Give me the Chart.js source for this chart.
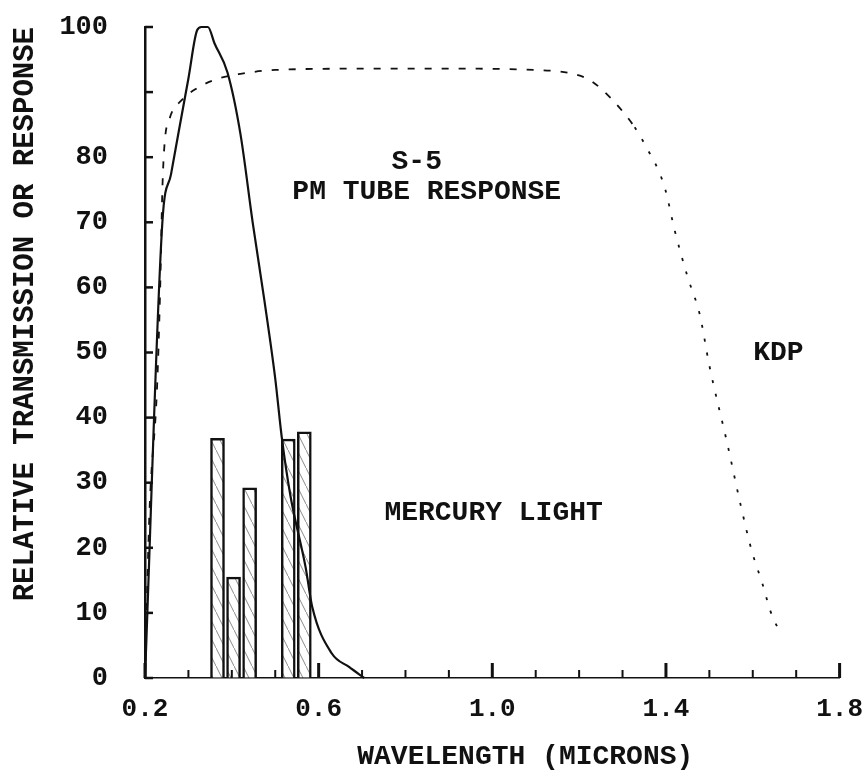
<!DOCTYPE html>
<html>
<head>
<meta charset="utf-8">
<script src="https://cdn.jsdelivr.net/npm/chart.js@4.4.1/dist/chart.umd.min.js"></script>
<style>
  html, body { margin: 0; padding: 0; background: #ffffff; }
  #wrap { width: 864px; height: 778px; }
</style>
</head>
<body>
<div id="wrap"><canvas id="c" width="864" height="778"></canvas></div>
<script>
// ---- data (wavelength in microns, relative value in %) ----
const s5Wavelength = [0.20, 0.24, 0.26, 0.28, 0.30, 0.32, 0.33, 0.345, 0.36, 0.39, 0.42, 0.448, 0.475, 0.50, 0.515, 0.535, 0.57, 0.585, 0.63, 0.67, 0.705];
const s5Response   = [0,    70,   77.4, 84.8, 92.1, 99.5, 100,  100,   97.5, 93,   83.5, 70,    58,    46,   37,    28,    17,   11,    3.8,  1.7,  0];

const kdpWavelength = [0.20, 0.21, 0.228, 0.235, 0.24, 0.245, 0.257, 0.285, 0.32, 0.365, 0.42, 0.50, 0.70, 0.90, 1.10, 1.186, 1.228, 1.274, 1.328, 1.351, 1.397, 1.42, 1.45, 1.478, 1.50, 1.542, 1.572, 1.597, 1.624, 1.64, 1.663];
const kdpTransmission = [0,  25,   45,    60,    75,   82,    86,    88.8,  90.6, 92,    92.8, 93.4, 93.6, 93.6, 93.4, 92.8,  91.7,  89,    84.6,  82,    75.4,  68.8, 61.6, 55.8,  48,   35.8,  26.6,  19.7,  14.1,  10.4, 6.9];

const mercuryWavelength = [0.367, 0.404, 0.441, 0.530, 0.567];
const mercuryIntensity  = [36.8,  15.5,  29.2,  36.7,  37.8];

const xTickLabels = ['0.2', '0.6', '1.0', '1.4', '1.8'];
const yTickLabels = ['0', '10', '20', '30', '40', '50', '60', '70', '80', '', '100'];

const annotations = [
  { text: 'S-5', x: 0.826, y: 79.3 },
  { text: 'PM TUBE RESPONSE', x: 0.849, y: 74.7 },
  { text: 'MERCURY LIGHT', x: 1.003, y: 25.3 },
  { text: 'KDP', x: 1.659, y: 49.9 }
];

// ---- helpers ----
const FONT = '"Liberation Mono", "DejaVu Sans Mono", monospace';
const INK = '#111111';

function hatchPattern() {
  const pc = document.createElement('canvas');
  pc.width = 9; pc.height = 18;
  const p = pc.getContext('2d');
  p.fillStyle = '#ffffff';
  p.fillRect(0, 0, 9, 18);
  p.strokeStyle = '#8a8a8a';
  p.lineWidth = 1;
  p.beginPath();
  p.moveTo(0, 0); p.lineTo(9, 18);
  p.stroke();
  return document.getElementById('c').getContext('2d').createPattern(pc, 'repeat');
}

const zip = (xs, ys) => xs.map((x, i) => ({ x: x, y: ys[i] }));

const decorPlugin = {
  id: 'decor',
  afterDatasetsDraw(chart) {
    const ctx = chart.ctx;
    const xs = chart.scales.x, ys = chart.scales.y;
    const x0 = xs.getPixelForValue(xs.min);
    const y0 = ys.getPixelForValue(0);
    ctx.save();
    ctx.strokeStyle = INK;
    ctx.lineCap = 'butt';
    // y ticks pointing inward
    ctx.lineWidth = 2.5;
    ys.ticks.forEach(t => {
      const py = ys.getPixelForValue(t.value);
      ctx.beginPath();
      ctx.moveTo(x0, py);
      ctx.lineTo(x0 + 8, py);
      ctx.stroke();
    });
    // x ticks pointing upward: major every 0.4, minor every 0.1
    for (let k = 2; k <= 18; k++) {
      const v = k / 10;
      const px = xs.getPixelForValue(v);
      const major = (k - 2) % 4 === 0;
      ctx.lineWidth = major ? 3 : 2;
      ctx.beginPath();
      ctx.moveTo(px, y0);
      ctx.lineTo(px, y0 - (major ? 15 : 8));
      ctx.stroke();
    }
    // text annotations
    ctx.fillStyle = INK;
    ctx.font = 'bold 28px ' + FONT;
    ctx.textAlign = 'center';
    ctx.textBaseline = 'middle';
    annotations.forEach(a => {
      ctx.fillText(a.text, xs.getPixelForValue(a.x), ys.getPixelForValue(a.y));
    });
    // x-axis title
    ctx.fillText('WAVELENGTH (MICRONS)', xs.getPixelForValue(1.076), y0 + 79);
    ctx.restore();
  }
};

new Chart(document.getElementById('c'), {
  type: 'bar',
  data: {
    datasets: [
      {
        type: 'line',
        label: 'S-5 PM TUBE RESPONSE',
        data: zip(s5Wavelength, s5Response),
        borderColor: INK,
        borderWidth: 2.2,
        pointRadius: 0,
        cubicInterpolationMode: 'monotone',
        fill: false,
        clip: 6,
        order: 1
      },
      {
        type: 'line',
        label: 'KDP',
        data: zip(kdpWavelength, kdpTransmission),
        borderColor: INK,
        borderWidth: 1.8,
        borderDash: [7, 10],
        segment: {
          borderDash: c => (c.p0.parsed.x > 1.3 ? [3, 11] : [7, 10])
        },
        pointRadius: 0,
        cubicInterpolationMode: 'monotone',
        fill: false,
        clip: 6,
        order: 2
      },
      {
        type: 'bar',
        label: 'MERCURY LIGHT',
        data: zip(mercuryWavelength, mercuryIntensity),
        backgroundColor: hatchPattern(),
        borderColor: INK,
        borderWidth: 2.5,
        barThickness: 14,
        order: 3
      }
    ]
  },
  options: {
    responsive: false,
    animation: false,
    events: [],
    layout: { padding: { top: 27, right: 20, left: 0, bottom: 0 } },
    plugins: {
      legend: { display: false },
      tooltip: { enabled: false }
    },
    scales: {
      x: {
        type: 'linear',
        min: 0.2,
        max: 1.8,
        offset: false,
        grid: { display: true, drawOnChartArea: false, drawTicks: true, tickLength: 15, tickColor: 'rgba(0,0,0,0)' },
        border: { display: true, color: INK, width: 1.5, dash: [2, 6] },
        ticks: {
          stepSize: 0.4,
          padding: 1,
          color: INK,
          font: { family: FONT, size: 26, weight: 'bold' },
          maxRotation: 0,
          callback: (v, i) => xTickLabels[i]
        },
        afterFit: s => { s.height = 100; }
      },
      y: {
        type: 'linear',
        min: 0,
        max: 100,
        grid: { display: true, drawOnChartArea: false, drawTicks: true, tickLength: 35, tickColor: 'rgba(0,0,0,0)' },
        border: { display: true, color: INK, width: 2.5 },
        ticks: {
          stepSize: 10,
          padding: 2,
          color: INK,
          font: { family: FONT, size: 27, weight: 'bold' },
          callback: (v, i) => yTickLabels[i]
        },
        title: {
          display: true,
          text: 'RELATIVE TRANSMISSION OR RESPONSE',
          align: 'end',
          color: INK,
          font: { family: FONT, size: 29, weight: 'bold' },
          padding: { top: 8, bottom: 0 }
        },
        afterFit: s => { s.width = 145; }
      }
    }
  },
  plugins: [decorPlugin]
});
</script>
</body>
</html>
